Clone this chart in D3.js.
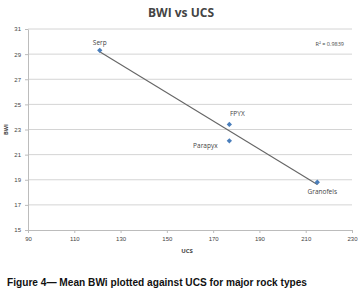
<!DOCTYPE html>
<html>
<head>
<meta charset="utf-8">
<script src="https://cdn.jsdelivr.net/npm/d3@7"></script>
<style>
  body { margin: 0; background: #fff; }
  svg { display: block; font-family: "Open Sans", "Liberation Sans", sans-serif; }
</style>
</head>
<body>
<svg id="chart"></svg>
<script>
// rock types, mean UCS and mean BWi
const rockTypes = ["Serp", "FPYX", "Parapyx", "Granofels"];
const ucsValues = [121, 177, 177, 215];
const bwiValues = [29.3, 23.4, 22.1, 18.8];
const xTicks = [90, 110, 130, 150, 170, 190, 210, 230];
const yTicks = [15, 17, 19, 21, 23, 25, 27, 29, 31];
const rSquaredText = "R² = 0.9839";

const width = 363, height = 292;
const margin = {top: 29, right: 11, bottom: 62, left: 28};

const svg = d3.select("#chart")
    .attr("width", width)
    .attr("height", height);

const xScale = d3.scaleLinear().domain([90, 230]).range([margin.left, width - margin.right]);
const yScale = d3.scaleLinear().domain([15, 31]).range([height - margin.bottom, margin.top]);

// horizontal gridlines
svg.append("g")
    .selectAll("line")
    .data(yTicks.slice(1))
    .enter()
    .append("line")
        .attr("x1", xScale(90))
        .attr("x2", xScale(230))
        .attr("y1", d => yScale(d))
        .attr("y2", d => yScale(d))
        .attr("stroke", "#d4d4d4")
        .attr("stroke-width", 1);

// axes
const xAxis = d3.axisBottom(xScale).tickValues(xTicks).tickSize(3).tickSizeOuter(0);
const yAxis = d3.axisLeft(yScale).tickValues(yTicks).tickSize(3).tickSizeOuter(0);

const xAxisGroup = svg.append("g")
    .attr("transform", `translate(0, ${yScale(15)})`)
    .call(xAxis);
const yAxisGroup = svg.append("g")
    .attr("transform", `translate(${xScale(90)}, 0)`)
    .call(yAxis);

[xAxisGroup, yAxisGroup].forEach(g => {
    g.select(".domain").attr("stroke", "#bcbcbc");
    g.selectAll(".tick line").attr("stroke", "#bcbcbc");
    g.selectAll(".tick text")
        .attr("fill", "#444")
        .attr("font-size", "6px");
});
xAxisGroup.selectAll(".tick text").attr("dy", "0.9em");
yAxisGroup.selectAll(".tick text").attr("dx", "-1px");

// linear trendline from least squares fit
const meanX = d3.mean(ucsValues), meanY = d3.mean(bwiValues);
const sxy = d3.sum(ucsValues, (x, i) => (x - meanX) * (bwiValues[i] - meanY));
const sxx = d3.sum(ucsValues, x => (x - meanX) * (x - meanX));
const slope = sxy / sxx;
const intercept = meanY - slope * meanX;
const xMin = d3.min(ucsValues), xMax = d3.max(ucsValues);

svg.append("line")
    .attr("x1", xScale(xMin))
    .attr("y1", yScale(intercept + slope * xMin))
    .attr("x2", xScale(xMax))
    .attr("y2", yScale(intercept + slope * xMax))
    .attr("stroke", "#666")
    .attr("stroke-width", 1.1);

// diamond markers
svg.append("g")
    .selectAll("path")
    .data(rockTypes.map((d, i) => i))
    .enter()
    .append("path")
        .attr("d", d3.symbol().type(d3.symbolSquare).size(14))
        .attr("transform", i => `translate(${xScale(ucsValues[i])}, ${yScale(bwiValues[i])}) rotate(45)`)
        .attr("fill", "#4a7ebb");

// point labels, placed like the Excel data labels
const labelOffset = {
    Serp: [0, -5, "middle"],
    FPYX: [8, -8, "middle"],
    Parapyx: [-24, 7, "middle"],
    Granofels: [5, 12, "middle"]
};
svg.append("g")
    .selectAll("text")
    .data(rockTypes.map((d, i) => i))
    .enter()
    .append("text")
        .attr("x", i => xScale(ucsValues[i]) + labelOffset[rockTypes[i]][0])
        .attr("y", i => yScale(bwiValues[i]) + labelOffset[rockTypes[i]][1])
        .attr("text-anchor", i => labelOffset[rockTypes[i]][2])
        .attr("font-size", "6.5px")
        .attr("fill", "#444")
        .text(i => rockTypes[i]);

// R squared
svg.append("text")
    .attr("x", 344)
    .attr("y", 46)
    .attr("text-anchor", "end")
    .attr("font-size", "5.5px")
    .attr("fill", "#444")
    .text(rSquaredText);

// title and axis labels
svg.append("text")
    .attr("x", 181)
    .attr("y", 17)
    .attr("text-anchor", "middle")
    .attr("font-size", "12px")
    .attr("font-weight", "bold")
    .attr("fill", "#444")
    .text("BWI vs UCS");

svg.append("text")
    .attr("x", 187)
    .attr("y", 253)
    .attr("text-anchor", "middle")
    .attr("font-size", "6px")
    .attr("font-weight", "bold")
    .attr("fill", "#444")
    .text("UCS");

svg.append("text")
    .attr("transform", `translate(8, ${yScale(23)}) rotate(-90)`)
    .attr("text-anchor", "middle")
    .attr("font-size", "5.5px")
    .attr("font-weight", "bold")
    .attr("fill", "#444")
    .text("BWI");

// figure caption (condensed bold, squeezed to the printed width)
svg.append("text")
    .attr("x", 7)
    .attr("y", 286)
    .attr("font-family", "'Liberation Sans Narrow', 'Liberation Sans', Arial, sans-serif")
    .attr("font-size", "11px")
    .attr("font-weight", "bold")
    .attr("fill", "#111")
    .attr("textLength", 300)
    .attr("lengthAdjust", "spacingAndGlyphs")
    .text("Figure 4\u2014 Mean BWi plotted against UCS for major rock types");
</script>
</body>
</html>
